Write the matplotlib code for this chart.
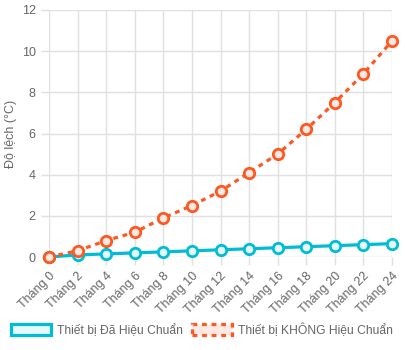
import matplotlib
matplotlib.use("Agg")
import matplotlib.pyplot as plt
from matplotlib.patches import Patch

# --- Data ---
months = ["Tháng 0", "Tháng 2", "Tháng 4", "Tháng 6", "Tháng 8", "Tháng 10", "Tháng 12",
          "Tháng 14", "Tháng 16", "Tháng 18", "Tháng 20", "Tháng 22", "Tháng 24"]
calibrated = [0, 0.1, 0.15, 0.2, 0.25, 0.3, 0.35, 0.4, 0.45, 0.5, 0.55, 0.6, 0.65]
uncalibrated = [0, 0.3, 0.8, 1.2, 1.9, 2.5, 3.2, 4.1, 5.0, 6.2, 7.5, 8.9, 10.5]
y_ticks = [0, 2, 4, 6, 8, 10, 12]

blue = "#00bcd4"
orange = "#ff5722"
grid_c = "#e0e0e0"
text_c = "#666666"

plt.rcParams['font.family'] = ['Liberation Sans', 'DejaVu Sans']

fig = plt.figure(figsize=(4.05, 3.5), dpi=100)
ax = fig.add_axes([49 / 405, 1 - 257 / 350, (392 - 49) / 405, (257 - 10) / 350])

x = list(range(len(months)))
ax.plot(x, calibrated, color=blue, lw=2.3, marker='o', ms=7.5,
        mfc="#e6f8fb", mec=blue, mew=2, zorder=3, clip_on=False)
ax.plot(x, uncalibrated, color=orange, lw=2.3, linestyle=(0, (1.5, 1.5)), marker='o', ms=7.5,
        mfc="#ffe9e2", mec=orange, mew=2, zorder=3, clip_on=False)

ax.set_xlim(0, len(months) - 1)
ax.set_ylim(0, 12)
ax.set_yticks(y_ticks)
ax.set_xticks(x)
ax.set_xticklabels(months, rotation=45, ha='right', rotation_mode='anchor')
ax.tick_params(colors=grid_c, labelcolor=text_c, labelsize=9, length=6, width=1)
ax.grid(True, color=grid_c, lw=1)
ax.set_axisbelow(True)
for s in ax.spines.values():
    s.set_visible(False)

# y axis title sits near the left edge of the canvas
fig.text(11 / 405, 1 - 134 / 350, "Độ lệch (°C)", rotation=90, ha='center', va='center',
         color=text_c, fontsize=9)

handles = [
    Patch(facecolor="#e6f8fb", edgecolor=blue, lw=2.3, label="Thiết bị Đã Hiệu Chuẩn"),
    Patch(facecolor="#ffe9e2", edgecolor=orange, lw=2.3, linestyle=(0, (1.5, 1.5)),
          label="Thiết bị KHÔNG Hiệu Chuẩn"),
]
leg = fig.legend(handles=handles, loc='center', bbox_to_anchor=(202 / 405, 1 - 330 / 350), ncol=2,
                 frameon=False, fontsize=8.7, handlelength=3.3, handleheight=1.0,
                 columnspacing=0.8, handletextpad=0.5)
for t in leg.get_texts():
    t.set_color(text_c)

fig.savefig("out.png", dpi=100)
